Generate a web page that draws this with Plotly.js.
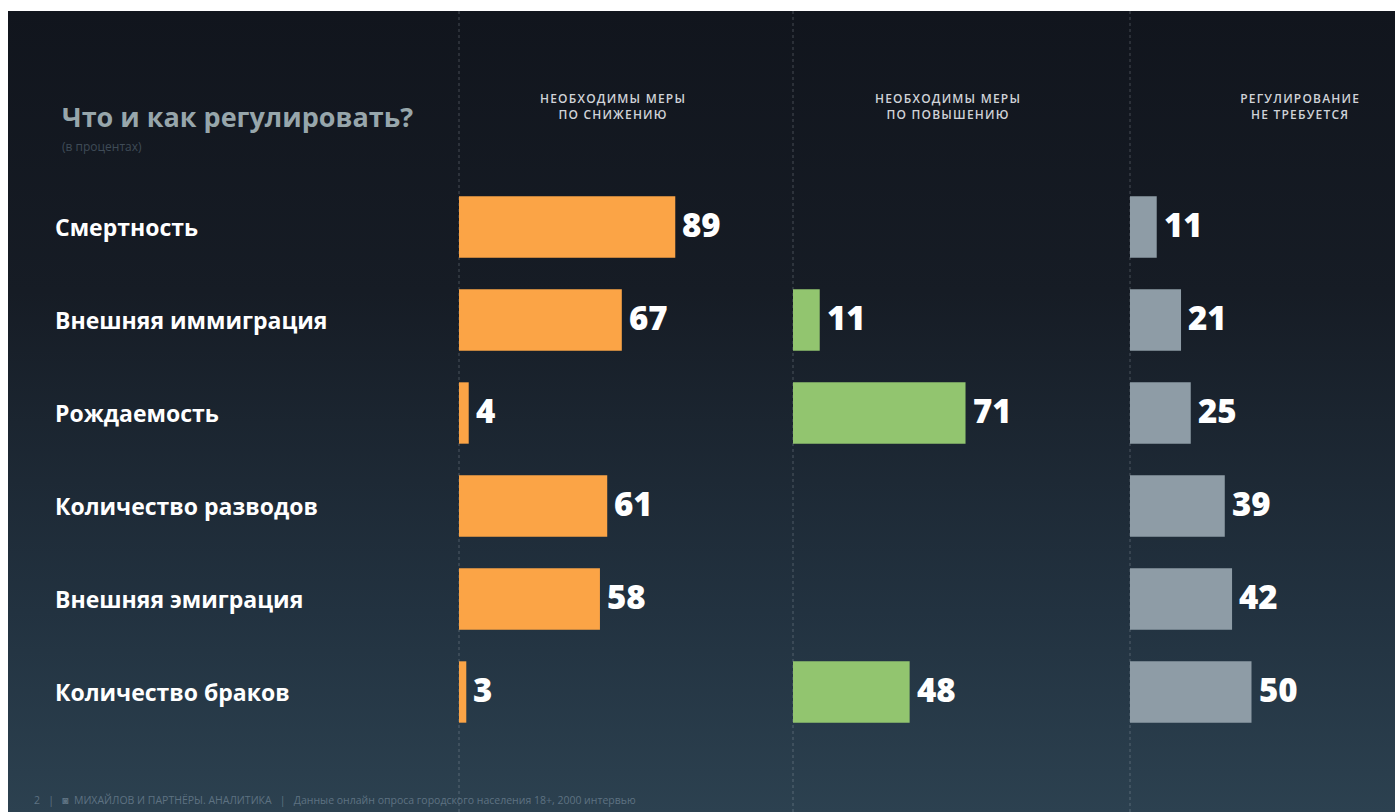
<!DOCTYPE html>
<html>
<head>
<meta charset="utf-8">
<script src="https://cdn.plot.ly/plotly-3.0.1.min.js"></script>
<style>
  html, body { margin: 0; padding: 0; background: #ffffff; }
  #wrap { position: relative; width: 1395px; height: 812px; overflow: hidden; }
  #bg { position: absolute; left: 8px; top: 11px; right: 0; bottom: 0;
        background: linear-gradient(to bottom, #11151d 0%, #161c25 35%, #223240 75%, #2c4150 100%); }
  #chart { position: absolute; left: 0; top: 0; width: 1395px; height: 812px; }
  .hdr text { letter-spacing: 1.2px; }
</style>
</head>
<body>
<div id="wrap"><div id="bg"></div><div id="chart"></div></div>
<script>
// ---- data ----
const categories = ["Смертность", "Внешняя иммиграция", "Рождаемость", "Количество разводов", "Внешняя эмиграция", "Количество браков"];
const decrease = [89, 67, 4, 61, 58, 3];
const increase = [null, 11, 71, null, null, 48];
const noRegulation = [11, 21, 25, 39, 42, 50];
const panelHeaders = ["НЕОБХОДИМЫ МЕРЫ<br>ПО СНИЖЕНИЮ", "НЕОБХОДИМЫ МЕРЫ<br>ПО ПОВЫШЕНИЮ", "РЕГУЛИРОВАНИЕ<br>НЕ ТРЕБУЕТСЯ"];
const titleText = "Что и как регулировать?";
const subtitleText = "(в процентах)";
const footerText = "2   |   ◙  МИХАЙЛОВ И ПАРТНЁРЫ. АНАЛИТИКА   |   Данные онлайн опроса городского населения 18+, 2000 интервью";

// ---- layout ----
const W = 1395;
const edges = [459, 793, 1130, 1395];
const pxPerUnit = 2.43;
const colors = ["#fba446", "#92c56f", "#8e9ca6"];
const series = [decrease, increase, noRegulation];
const axisIds = ["x", "x2", "x3"];

const traces = series.map((vals, i) => ({
  type: "bar", orientation: "h",
  x: vals, y: categories,
  xaxis: axisIds[i], yaxis: "y",
  marker: { color: colors[i] },
  width: 0.66,
  hoverinfo: "x+y",
  showlegend: false
}));

const annotations = [];
// value labels
series.forEach((vals, i) => {
  vals.forEach((v, j) => {
    if (v === null) return;
    annotations.push({
      xref: axisIds[i], yref: "y", x: v, y: categories[j],
      text: String(v), showarrow: false, xanchor: "left", yanchor: "middle",
      xshift: 5, yshift: 3,
      font: { family: "Open Sans, sans-serif", size: 33, color: "#ffffff", weight: 800 }
    });
  });
});
// category labels
categories.forEach((c) => {
  annotations.push({
    xref: "paper", yref: "y", x: 53 / W, y: c, text: c, showarrow: false,
    xanchor: "left", yanchor: "middle",
    font: { family: "Open Sans, sans-serif", size: 23, color: "#ffffff", weight: 700 }
  });
});
// panel headers
const hdrStart = annotations.length;
panelHeaders.forEach((h, i) => {
  const cx = [613, 948, 1300][i];
  annotations.push({
    xref: "paper", yref: "paper", x: cx / W, y: 1 - 106 / 812, text: h, showarrow: false,
    xanchor: "center", yanchor: "middle",
    font: { family: "Open Sans, sans-serif", size: 12, color: "#d0d3d8", weight: 600 }
  });
});
// title & subtitle
annotations.push({
  xref: "paper", yref: "paper", x: 60 / W, y: 1 - 117 / 812, text: titleText, showarrow: false,
  xanchor: "left", yanchor: "middle",
  font: { family: "Open Sans, sans-serif", size: 27, color: "#97a6ab", weight: 700 }
});
annotations.push({
  xref: "paper", yref: "paper", x: 60 / W, y: 1 - 146 / 812, text: subtitleText, showarrow: false,
  xanchor: "left", yanchor: "middle",
  font: { family: "Open Sans, sans-serif", size: 12, color: "#3f4b57" }
});
// footer
annotations.push({
  xref: "paper", yref: "paper", x: 32 / W, y: 1 - 800 / 812, text: footerText, showarrow: false,
  xanchor: "left", yanchor: "middle",
  font: { family: "Open Sans, sans-serif", size: 10.5, color: "#5e7282" }
});

const shapes = edges.slice(0, 3).map(px => ({
  type: "line", xref: "paper", yref: "paper",
  x0: px / W, x1: px / W, y0: 0, y1: 1 - 11 / 812,
  line: { color: "rgba(200,210,220,0.28)", width: 1, dash: "dot" },
  layer: "below"
}));

function xaxis(i) {
  const w = edges[i + 1] - edges[i];
  return {
    domain: [edges[i] / W, edges[i + 1] / W],
    range: [0, w / pxPerUnit],
    showgrid: false, zeroline: false, showticklabels: false, ticks: "",
    showline: false, fixedrange: true
  };
}

const rowTop = 227, rowStep = 93, H = 812;
const layout = {
  width: 1395, height: 812,
  margin: { l: 0, r: 0, t: 0, b: 0 },
  paper_bgcolor: "rgba(0,0,0,0)",
  plot_bgcolor: "rgba(0,0,0,0)",
  xaxis: xaxis(0), xaxis2: xaxis(1), xaxis3: xaxis(2),
  yaxis: {
    type: "category", categoryorder: "array", categoryarray: categories,
    range: [(H - rowTop) / rowStep, -rowTop / rowStep],
    showgrid: false, zeroline: false, showticklabels: false, ticks: "", showline: false,
    fixedrange: true
  },
  annotations: annotations,
  shapes: shapes,
  font: { family: "Open Sans, sans-serif" }
};

Plotly.newPlot("chart", traces, layout, { displayModeBar: false, staticPlot: true }).then(gd => {
  gd.querySelectorAll("g.annotation").forEach(g => {
    const idx = +g.getAttribute("data-index");
    if (idx >= hdrStart && idx < hdrStart + panelHeaders.length) g.classList.add("hdr");
  });
});
</script>
</body>
</html>
